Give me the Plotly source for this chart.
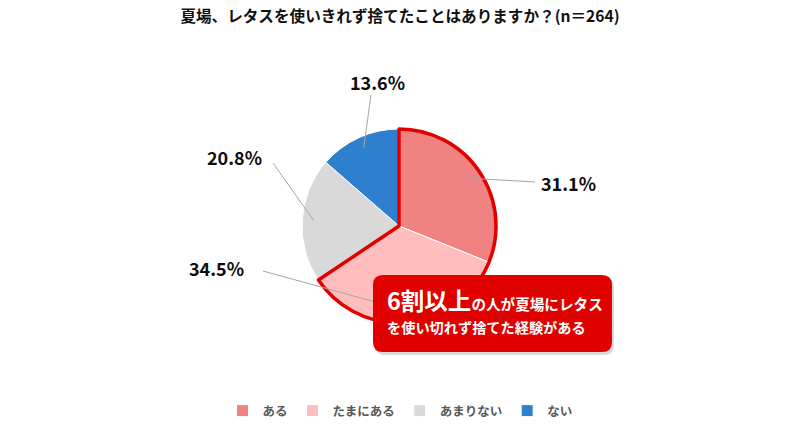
import math
import plotly.graph_objects as go

# answers and shares (%)
labels = ["ある", "たまにある", "あまりない", "ない"]
values = [31.1, 34.5, 20.8, 13.6]
colors = ["#F08282", "#FFBDBD", "#D9D9D9", "#2E80CF"]

# the callout groups the first two answers
grouped = [values[0] + values[1], values[2] + values[3]]

W, H = 800, 431
cx, cy, r = 399, 226, 97  # pie centre / radius in pixels


def px(x):
    return x / W


def py(y):
    return 1 - y / H


fig = go.Figure()

fig.add_trace(go.Pie(
    labels=labels, values=values, sort=False, direction="clockwise", rotation=0,
    marker=dict(colors=colors, line=dict(color="white", width=1)),
    textinfo="none", hoverinfo="label+percent",
    domain=dict(x=[px(cx - r), px(cx + r)], y=[py(cy + r), py(cy - r)]),
))

# red outline round "ある" + "たまにある"
fig.add_trace(go.Pie(
    labels=["6割以上", "その他"], values=grouped, sort=False, direction="clockwise", rotation=0,
    marker=dict(colors=["rgba(0,0,0,0)", "rgba(0,0,0,0)"],
                line=dict(color=["#E00000", "rgba(0,0,0,0)"], width=[3.5, 0])),
    textinfo="none", hoverinfo="skip", showlegend=False,
    domain=dict(x=[px(cx - r), px(cx + r)], y=[py(cy + r), py(cy - r)]),
))

# label placement (pixels): where the leader line stops, and the text centre
line_ends = [(535, 182), (263, 271), (273, 163), (371, 95)]
text_pos = [(568, 183), (216, 268), (234, 157), (377, 82)]

shapes = []
annotations = []
total = sum(values)
start = 0
for i, v in enumerate(values):
    mid = (start + v / 2) / total
    start += v
    a = 2 * math.pi * mid
    f = 0.88
    x0 = cx + f * r * math.sin(a)
    y0 = cy - f * r * math.cos(a)
    x1, y1 = line_ends[i]
    shapes.append(dict(type="line", xref="paper", yref="paper", layer="above",
                       x0=px(x0), y0=py(y0), x1=px(x1), y1=py(y1),
                       line=dict(color="#A6A6A6", width=1)))
    tx, ty = text_pos[i]
    annotations.append(dict(x=px(tx), y=py(ty), xref="paper", yref="paper",
                            xanchor="center", yanchor="middle",
                            text=f"<b>{v:.1f}%</b>", showarrow=False,
                            font=dict(size=18, color="#0D0D0D", family="Noto Sans CJK JP")))

# callout box with rounded corners
bx0, by0, bx1, by1, rad = 373, 275, 612, 352, 10


def rounded(x0, y0, x1, y1, k):
    kx, ky = k / W, k / H
    X0, X1 = px(x0), px(x1)
    Y0, Y1 = py(y0), py(y1)  # Y0 top, Y1 bottom
    return (f"M {X0+kx},{Y0} L {X1-kx},{Y0} Q {X1},{Y0} {X1},{Y0-ky} "
            f"L {X1},{Y1+ky} Q {X1},{Y1} {X1-kx},{Y1} L {X0+kx},{Y1} "
            f"Q {X0},{Y1} {X0},{Y1+ky} L {X0},{Y0-ky} Q {X0},{Y0} {X0+kx},{Y0} Z")


shapes.append(dict(type="path", xref="paper", yref="paper", layer="above",
                   path=rounded(bx0 + 2, by0 + 3, bx1 + 2, by1 + 3, rad),
                   fillcolor="rgba(0,0,0,0.15)", line=dict(width=0)))
shapes.append(dict(type="path", xref="paper", yref="paper", layer="above",
                   path=rounded(bx0, by0, bx1, by1, rad),
                   fillcolor="#E00000", line=dict(width=0)))

annotations.append(dict(
    x=px(385), y=py(300), xref="paper", yref="paper", xanchor="left", yanchor="middle",
    text="<b><span style='font-size:23.5px'>6割以上</span>の人が夏場にレタス</b>",
    showarrow=False, font=dict(size=14.6, color="white", family="Noto Sans CJK JP"),
))
annotations.append(dict(
    x=px(385), y=py(327), xref="paper", yref="paper", xanchor="left", yanchor="middle",
    text="<b>を使い切れず捨てた経験がある</b>",
    showarrow=False, font=dict(size=14.2, color="white", family="Noto Sans CJK JP"),
))

fig.update_layout(
    width=W, height=H,
    margin=dict(l=0, r=0, t=0, b=0, autoexpand=False),
    paper_bgcolor="white", plot_bgcolor="white",
    title=dict(text="<b>夏場、レタスを使いきれず捨てたことはありますか？(n＝264)</b>",
               x=0.5, xanchor="center", y=py(17), yanchor="middle",
               font=dict(size=15.6, color="#111111", family="Noto Sans CJK JP")),
    legend=dict(orientation="h", x=0.5, xanchor="center", y=py(411), yanchor="middle",
                font=dict(size=12.5, color="#595959", family="Noto Sans CJK JP", weight="bold"),
                itemclick=False),
    shapes=shapes,
    annotations=annotations,
)

# page has a default body margin; drop it so the figure sits at (0, 0)
fig.write_html("out.html", config={"displayModeBar": False},
               post_script="document.body.style.margin='0';")
